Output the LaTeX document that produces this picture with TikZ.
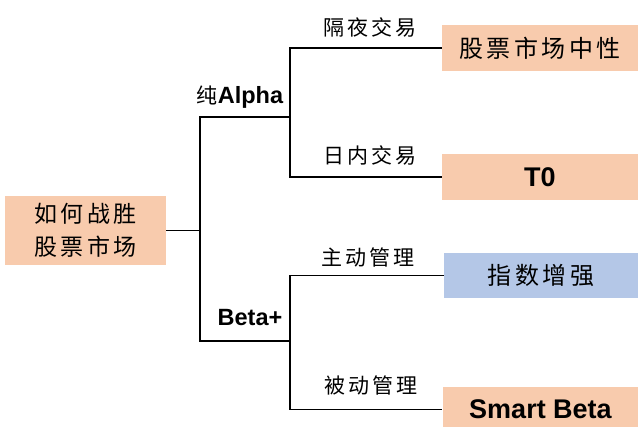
\documentclass[tikz,border=0pt]{standalone}
\usepackage{fontspec}
\setmainfont{Liberation Sans}
\newfontfamily\cjk[LetterSpace=14]{Noto Sans CJK SC}
\definecolor{peach}{HTML}{F8CBAD}
\definecolor{lblue}{HTML}{B4C7E7}
\begin{document}
\begin{tikzpicture}[x=1pt,y=-1pt,
  leaf/.style={rectangle,inner sep=0pt,minimum width=196pt,minimum height=46pt,fill=peach},
  lab/.style={inner sep=0pt,font=\cjk\fontsize{21}{24}\selectfont},
  cjkbox/.style={font=\cjk\fontsize{24}{28}\selectfont},
  latbox/.style={font=\bfseries\fontsize{27}{30}\selectfont},
  conn/.style={draw=black,line width=1.6pt}]
\useasboundingbox (0,0) rectangle (638,427);
\node[rectangle,fill=peach,minimum width=161pt,minimum height=69pt,inner sep=0pt,align=center,
  font=\cjk\fontsize{23}{33}\selectfont] (root) at (85.5,230.5) {如何战胜\\股票市场};
\node[leaf,cjkbox] (b1) at (540,48) {股票市场中性};
\node[leaf,latbox] (b2) at (540,177) {T0};
\node[leaf,cjkbox,fill=lblue,minimum width=194pt,minimum height=45pt] (b3) at (541,275.5) {指数增强};
\node[leaf,latbox,minimum height=45pt] (b4) at (540.5,409.5) {Smart Beta};
\coordinate (a) at (290,117);
\coordinate (b) at (290,341);
\coordinate (s) at (200,117);
\draw[conn] (root.east) -- (root.east -| s);
\draw[conn] (a) -- (s) -- (s |- b) -- (b);
\draw[conn] (b1.west) -- (b1.west -| a) -- (b2.west -| a) -- (b2.west);
\draw[conn] (b3.west) -- (b3.west -| b) -- (b4.west -| b) -- (b4.west);
\node[lab] (l1) at (370,27) {隔夜交易};
\node[lab] (l2) at (370,155) {日内交易};
\node[lab] (l3) at (368,257) {主动管理};
\node[lab] (l4) at (371,385) {被动管理};
\node[inner sep=0pt] (la) at (240,97) {{\cjk\fontsize{21}{24}\selectfont 纯}\bfseries\fontsize{23.5}{26}\selectfont Alpha};
\node[inner sep=0pt,font=\bfseries\fontsize{23.5}{26}\selectfont] (lb) at (250,318) {Beta+};
\end{tikzpicture}
\end{document}
